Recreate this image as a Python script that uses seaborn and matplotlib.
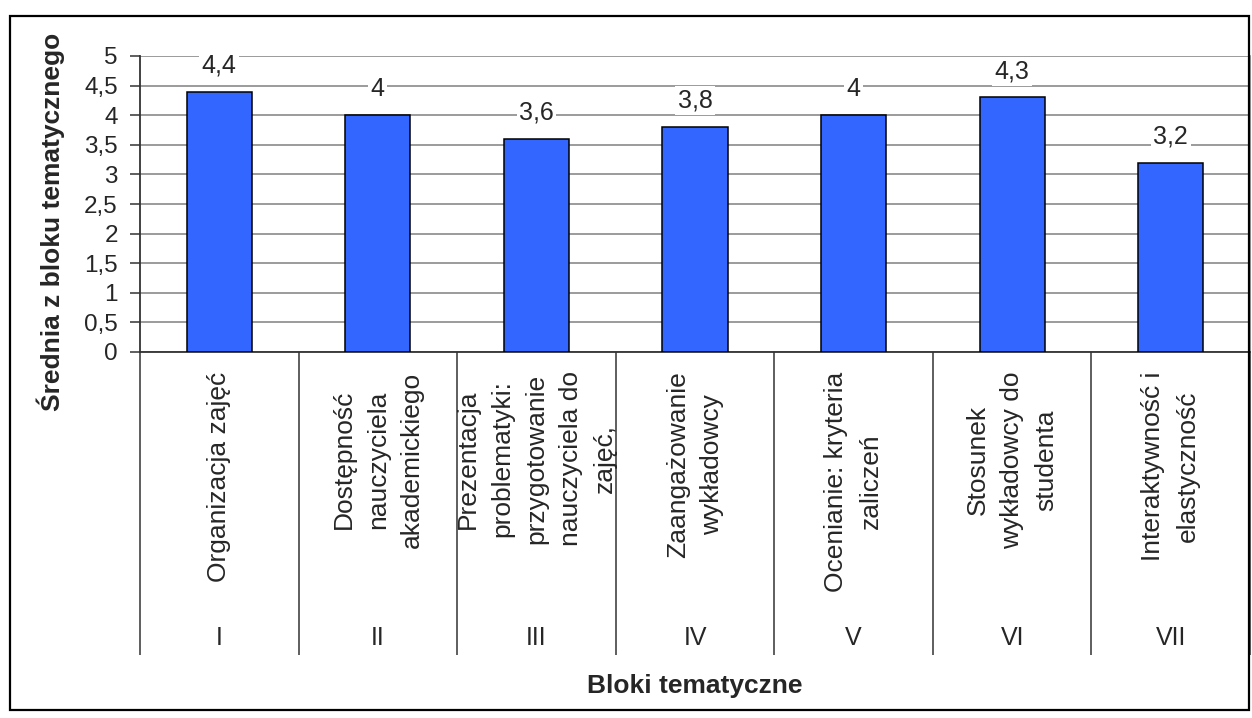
import numpy as np
import matplotlib
matplotlib.use('Agg')
import matplotlib.pyplot as plt
import seaborn as sns
from matplotlib.patches import Rectangle

sns.set_theme(style="white")
plt.rcParams['font.family'] = ['Liberation Sans', 'DejaVu Sans']

# ------------------------------------------------------------
# data
# ------------------------------------------------------------
bloki = ['I', 'II', 'III', 'IV', 'V', 'VI', 'VII']
opisy = [
    'Organizacja zajęć',
    'Dostępność\nnauczyciela\nakademickiego',
    'Prezentacja\nproblematyki:\nprzygotowanie\nnauczyciela do\nzajęć,',
    'Zaangażowanie\nwykładowcy',
    'Ocenianie: kryteria\nzaliczeń',
    'Stosunek\nwykładowcy do\nstudenta',
    'Interaktywność i\nelastyczność',
]
srednie = [4.4, 4.0, 3.6, 3.8, 4.0, 4.3, 3.2]
y_ticks = [0, 0.5, 1, 1.5, 2, 2.5, 3, 3.5, 4, 4.5, 5]


def pl(v):
    return f'{v:g}'.replace('.', ',')


W, H = 1252, 718
fig = plt.figure(figsize=(W / 100, H / 100), dpi=100)
ax = fig.add_axes([140 / W, (H - 352) / H, 1110 / W, 296 / H])

# outer frame of the chart
fig.patches.append(Rectangle((10 / W, 1 - 710 / H), 1239 / W, 694 / H,
                             transform=fig.transFigure, fill=False,
                             edgecolor='black', linewidth=1.6, zorder=0))

sns.barplot(x=bloki, y=srednie, color='#3366FF', edgecolor='black',
            linewidth=1.1, width=0.41, saturation=1, ax=ax, zorder=3)

ax.set_xlim(-0.5, len(bloki) - 0.5)
ax.set_ylim(0, 5)
ax.set_yticks(y_ticks)
ax.set_yticklabels([pl(v) for v in y_ticks], fontsize=17.5)
ax.yaxis.grid(True, color='#808080', linewidth=1.1, zorder=0)
ax.set_axisbelow(True)
ax.tick_params(axis='y', direction='out', length=7, width=1.1,
               color='#333333', pad=9, left=True)

# category separators as long ticks
ax.set_xticks(np.arange(-0.5, len(bloki), 1.0))
ax.set_xticklabels([])
ax.tick_params(axis='x', direction='out', length=218, width=1.1,
               color='#333333', bottom=True)
ax.set_xlabel('')
ax.set_ylabel('')

for side in ['left', 'bottom']:
    ax.spines[side].set_color('#333333')
    ax.spines[side].set_linewidth(1.3)
ax.spines['top'].set_visible(False)
ax.spines['right'].set_color('#808080')
ax.spines['right'].set_linewidth(1.1)

# value labels
for i, v in enumerate(srednie):
    ax.annotate(pl(v), xy=(i, v), xytext=(0, 19), textcoords='offset points',
                ha='center', va='center', fontsize=18, zorder=5,
                bbox=dict(boxstyle='square,pad=0.1', fc='white', ec='none'))

# two level category axis
for i, (b, o) in enumerate(zip(bloki, opisy)):
    ax.annotate(o, xy=(i, 0), xycoords=('data', 'axes fraction'),
                xytext=(0, -14), textcoords='offset points',
                rotation=90, ha='center', va='top', multialignment='center',
                fontsize=19, linespacing=1.55, annotation_clip=False)
    ax.annotate(b, xy=(i, 0), xycoords=('data', 'axes fraction'),
                xytext=(0, -206), textcoords='offset points',
                ha='center', va='center', fontsize=18, annotation_clip=False)

fig.text(695 / W, 1 - 686 / H, 'Bloki tematyczne', ha='center', va='center',
         fontsize=19, fontweight='bold')
fig.text(51 / W, 1 - 222 / H, 'Średnia z bloku tematycznego', ha='center',
         va='center', rotation=90, fontsize=19, fontweight='bold')

plt.savefig('out.png', dpi=100)
